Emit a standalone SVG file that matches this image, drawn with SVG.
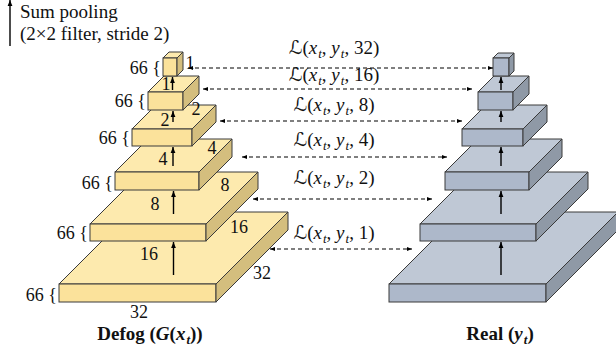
<svg xmlns="http://www.w3.org/2000/svg" width="616" height="354" viewBox="0 0 616 354">
<defs>
<marker id="ah" viewBox="0 0 10 10" refX="10" refY="5" markerWidth="5" markerHeight="5" orient="auto-start-reverse" markerUnits="userSpaceOnUse">
<path d="M0,1 L10,5 L0,9 Z" fill="#000"/>
</marker>
<marker id="ahv" viewBox="0 0 10 10" refX="10" refY="5" markerWidth="7" markerHeight="6" orient="auto" markerUnits="userSpaceOnUse">
<path d="M0,1 L10,5 L0,9 Z" fill="#000"/>
</marker>
<style>
.t{font-family:"Liberation Serif","Times New Roman",serif;font-size:18px;fill:#111}
.lab{font-family:"Liberation Serif","Times New Roman",serif;font-size:19px;fill:#111}
.loss{font-family:"Liberation Serif","Times New Roman",serif;font-size:19px;fill:#111}
.L{font-family:"DejaVu Serif","DejaVu Sans",serif;font-style:italic}
.i{font-style:italic}
.sub{font-style:italic;font-size:13px}
.b{font-family:"Liberation Serif","Times New Roman",serif;font-size:19px;font-weight:bold;fill:#111}
.yt{fill:#FDEAAE;stroke:#3a3a3a;stroke-width:1;stroke-linejoin:round}
.yf{fill:#FBE29B;stroke:#3a3a3a;stroke-width:1}
.ys{fill:#D4BE7E;stroke:#3a3a3a;stroke-width:1;stroke-linejoin:round}
.bt{fill:#BFC8D5;stroke:#3a3a3a;stroke-width:1;stroke-linejoin:round}
.bf{fill:#ADB8CA;stroke:#3a3a3a;stroke-width:1}
.bs{fill:#8F99A6;stroke:#3a3a3a;stroke-width:1;stroke-linejoin:round}
.up{stroke:#000;stroke-width:1.4;fill:none;marker-end:url(#ahv)}
.dash{stroke:#000;stroke-width:1.2;stroke-dasharray:4 3;fill:none;marker-start:url(#ah);marker-end:url(#ah)}
</style>
</defs>

<g id="legend">
<line x1="10" y1="46" x2="10" y2="0" class="up"/>
<text class="lab" x="20" y="18">Sum pooling</text>
<text class="lab" x="20" y="40">(2×2 filter, stride 2)</text>
</g>

<g id="defog">
<g id="d32">
<polygon class="yt" points="59,284 131,212 288,212 216,284"/>
<rect class="yf" x="59" y="284" width="157" height="18"/>
<polygon class="ys" points="216,284 288,212 288,230 216,302"/>
</g>
<g id="d16">
<polygon class="yt" points="90,224 142,172 258,172 206,224"/>
<rect class="yf" x="90" y="224" width="116" height="17"/>
<polygon class="ys" points="206,224 258,172 258,189 206,241"/>
</g>
<g id="d8">
<polygon class="yt" points="115,172 148,139 232,139 199,172"/>
<rect class="yf" x="115" y="172" width="84" height="18"/>
<polygon class="ys" points="199,172 232,139 232,157 199,190"/>
</g>
<g id="d4">
<polygon class="yt" points="132,129 156,105 216,105 192,129"/>
<rect class="yf" x="132" y="129" width="60" height="17"/>
<polygon class="ys" points="192,129 216,105 216,122 192,146"/>
</g>
<g id="d2">
<polygon class="yt" points="148,92 164,76 199,76 183,92"/>
<rect class="yf" x="148" y="92" width="35" height="18"/>
<polygon class="ys" points="183,92 199,76 199,94 183,110"/>
</g>
<g id="d1">
<polygon class="yt" points="163,58 169,52 183,52 177,58"/>
<rect class="yf" x="163" y="58" width="14" height="18"/>
<polygon class="ys" points="177,58 183,52 183,70 177,76"/>
</g>
<g id="defog-arrows">
<line class="up" x1="173.5" y1="275" x2="173.5" y2="242"/>
<line class="up" x1="173.5" y1="214" x2="173.5" y2="191"/>
<line class="up" x1="173" y1="166" x2="173" y2="147"/>
<line class="up" x1="173" y1="122" x2="173" y2="111"/>
<line class="up" x1="172.5" y1="90" x2="172.5" y2="77"/>
</g>
<g id="defog-labels" class="t">
<text x="149" y="260" text-anchor="middle">16</text>
<text x="155" y="210" text-anchor="middle">8</text>
<text x="163" y="165" text-anchor="middle">4</text>
<text x="165" y="126" text-anchor="middle">2</text>
<text x="166" y="90" text-anchor="middle">1</text>
<text x="190" y="69" text-anchor="middle">1</text>
<text x="196" y="115" text-anchor="middle">2</text>
<text x="212" y="154" text-anchor="middle">4</text>
<text x="225" y="191" text-anchor="middle">8</text>
<text x="239" y="233" text-anchor="middle">16</text>
<text x="262" y="279" text-anchor="middle">32</text>
<text x="139" y="318" text-anchor="middle">32</text>
<text x="57" y="301" text-anchor="end">66 {</text>
<text x="88" y="239" text-anchor="end">66 {</text>
<text x="113" y="189" text-anchor="end">66 {</text>
<text x="130" y="144" text-anchor="end">66 {</text>
<text x="146" y="107" text-anchor="end">66 {</text>
<text x="161" y="74" text-anchor="end">66 {</text>
</g>
</g>

<g id="real">
<g id="r32">
<polygon class="bt" points="389,284 461,212 618,212 546,284"/>
<rect class="bf" x="389" y="284" width="157" height="18"/>
<polygon class="bs" points="546,284 618,212 618,230 546,302"/>
</g>
<g id="r16">
<polygon class="bt" points="420,224 472,172 588,172 536,224"/>
<rect class="bf" x="420" y="224" width="116" height="17"/>
<polygon class="bs" points="536,224 588,172 588,189 536,241"/>
</g>
<g id="r8">
<polygon class="bt" points="445,172 478,139 562,139 529,172"/>
<rect class="bf" x="445" y="172" width="84" height="18"/>
<polygon class="bs" points="529,172 562,139 562,157 529,190"/>
</g>
<g id="r4">
<polygon class="bt" points="462,129 486,105 547,105 523,129"/>
<rect class="bf" x="462" y="129" width="61" height="17"/>
<polygon class="bs" points="523,129 547,105 547,122 523,146"/>
</g>
<g id="r2">
<polygon class="bt" points="478,92 494,76 529,76 513,92"/>
<rect class="bf" x="478" y="92" width="35" height="18"/>
<polygon class="bs" points="513,92 529,76 529,94 513,110"/>
</g>
<g id="r1">
<polygon class="bt" points="493,58 498,53 514,53 509,58"/>
<rect class="bf" x="493" y="58" width="16" height="18"/>
<polygon class="bs" points="509,58 514,53 514,71 509,76"/>
</g>
<g id="real-arrows">
<line class="up" x1="501" y1="275" x2="501" y2="242"/>
<line class="up" x1="501" y1="214" x2="501" y2="191"/>
<line class="up" x1="501" y1="166" x2="501" y2="147"/>
<line class="up" x1="501" y1="122" x2="501" y2="111"/>
<line class="up" x1="501" y1="90" x2="501" y2="77"/>
</g>
</g>

<g id="connectors">
<line class="dash" x1="188" y1="68" x2="493" y2="68"/>
<line class="dash" x1="203" y1="89" x2="472" y2="89"/>
<line class="dash" x1="220" y1="121" x2="462" y2="121"/>
<line class="dash" x1="242" y1="157" x2="447" y2="157"/>
<line class="dash" x1="253" y1="199" x2="432" y2="199"/>
<line class="dash" x1="270" y1="249" x2="412" y2="249"/>
</g>

<g id="loss-labels" class="loss" text-anchor="middle">
<text x="334" y="54"><tspan class="L">ℒ</tspan>(<tspan class="i">x</tspan><tspan class="sub" dy="4" dx="1">t</tspan><tspan dy="-4">, </tspan><tspan class="i">y</tspan><tspan class="sub" dy="4" dx="1">t</tspan><tspan dy="-4">, 32)</tspan></text>
<text x="334" y="81"><tspan class="L">ℒ</tspan>(<tspan class="i">x</tspan><tspan class="sub" dy="4" dx="1">t</tspan><tspan dy="-4">, </tspan><tspan class="i">y</tspan><tspan class="sub" dy="4" dx="1">t</tspan><tspan dy="-4">, 16)</tspan></text>
<text x="334" y="111"><tspan class="L">ℒ</tspan>(<tspan class="i">x</tspan><tspan class="sub" dy="4" dx="1">t</tspan><tspan dy="-4">, </tspan><tspan class="i">y</tspan><tspan class="sub" dy="4" dx="1">t</tspan><tspan dy="-4">, 8)</tspan></text>
<text x="334" y="146"><tspan class="L">ℒ</tspan>(<tspan class="i">x</tspan><tspan class="sub" dy="4" dx="1">t</tspan><tspan dy="-4">, </tspan><tspan class="i">y</tspan><tspan class="sub" dy="4" dx="1">t</tspan><tspan dy="-4">, 4)</tspan></text>
<text x="334" y="184"><tspan class="L">ℒ</tspan>(<tspan class="i">x</tspan><tspan class="sub" dy="4" dx="1">t</tspan><tspan dy="-4">, </tspan><tspan class="i">y</tspan><tspan class="sub" dy="4" dx="1">t</tspan><tspan dy="-4">, 2)</tspan></text>
<text x="334" y="239"><tspan class="L">ℒ</tspan>(<tspan class="i">x</tspan><tspan class="sub" dy="4" dx="1">t</tspan><tspan dy="-4">, </tspan><tspan class="i">y</tspan><tspan class="sub" dy="4" dx="1">t</tspan><tspan dy="-4">, 1)</tspan></text>
</g>

<g id="titles" class="b" text-anchor="middle">
<text x="150" y="340">Defog (<tspan class="i">G</tspan>(<tspan class="i">x</tspan><tspan class="sub" dy="4" dx="1">t</tspan><tspan dy="-4">))</tspan></text>
<text x="500" y="340">Real (<tspan class="i">y</tspan><tspan class="sub" dy="4" dx="1">t</tspan><tspan dy="-4">)</tspan></text>
</g>
</svg>
